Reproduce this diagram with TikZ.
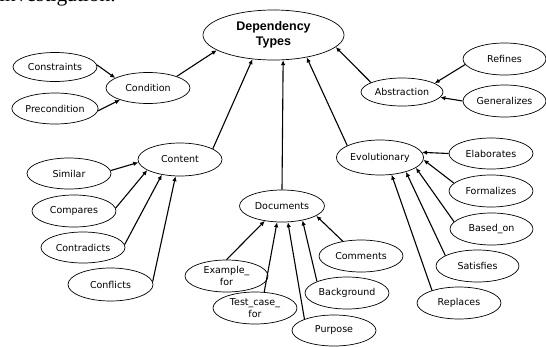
\documentclass[tikz,border=0pt]{standalone}
\usepackage{fontspec}
\usetikzlibrary{arrows.meta, shapes.geometric}
\newfontfamily\labelfont{DejaVu Sans}
\newfontfamily\headfont{Liberation Sans}
\newfontfamily\captionfont{Liberation Serif}

\begin{document}
\begin{tikzpicture}[x=1pt, y=-1pt,
  typebox/.style={draw=black, line width=0.7pt, ellipse, align=center,
    minimum width=84pt, minimum height=32pt, inner sep=1pt,
    font=\labelfont\fontsize{9.5}{12.5}\selectfont},
  rootbox/.style={draw=black, line width=0.7pt, ellipse, align=center,
    minimum width=141pt, minimum height=50pt, inner sep=1pt,
    font=\headfont\bfseries\fontsize{12.5}{14.5}\selectfont},
  dep/.style={-{Latex[length=5pt, width=4.5pt]}, line width=1.1pt, black}
]
\useasboundingbox (0,0) rectangle (546,346);

% cut-off line of running text above the figure
\node[anchor=base west, inner sep=0pt, font=\captionfont\fontsize{21.5}{24}\selectfont]
  (caption) at (-1,1) {investigation.};

% root
\node[rootbox] (types) at (273.5,35) {Dependency\\Types};

% main categories
\node[typebox, minimum height=31pt] (condition) at (148,88) {Condition};
\node[typebox, minimum width=82pt, minimum height=28pt] (abstraction) at (402,92) {Abstraction};
\node[typebox, minimum height=33pt] (content) at (180,159.5) {Content};
\node[typebox, minimum width=85pt] (documents) at (282,206) {Documents};
\node[typebox, minimum height=35pt] (evolutionary) at (380,157.5) {Evolutionary};

% condition
\node[typebox, minimum height=29pt] (constraints) at (55,67) {Constraints};
\node[typebox, minimum height=31pt] (precondition) at (55,108.5) {Precondition};

% abstraction
\node[typebox, minimum width=83pt] (refines) at (504.5,59) {Refines};
\node[typebox, minimum width=83pt] (generalizes) at (504.5,101) {Generalizes};

% content
\node[typebox, minimum height=31pt] (similar) at (69,173.5) {Similar};
\node[typebox] (compares) at (74,211) {Compares};
\node[typebox, minimum height=31pt] (contradicts) at (83,247.5) {Contradicts};
\node[typebox, minimum width=85pt, minimum height=33pt] (conflicts) at (110.5,284.5) {Conflicts};

% documents
\node[typebox, minimum width=83pt] (example) at (226.5,276) {Example\_\\for};
\node[typebox] (testcase) at (255,308) {Test\_case\_\\for};
\node[typebox, minimum height=31pt] (purpose) at (334,330.5) {Purpose};
\node[typebox] (background) at (347,293) {Background};
\node[typebox] (comments) at (361,256) {Comments};

% evolutionary
\node[typebox, minimum height=31pt] (elaborates) at (491,153.5) {Elaborates};
\node[typebox] (formalizes) at (491,191) {Formalizes};
\node[typebox, minimum width=83pt] (basedon) at (491.5,229) {Based\_on};
\node[typebox, minimum width=83pt] (satisfies) at (477.5,266) {Satisfies};
\node[typebox] (replaces) at (459,303) {Replaces};

% into the root
\draw[dep] (condition.22) -- (types.195);
\draw[dep] (content.18) -- (types.229);
\draw[dep] (documents.north) -- (types.291);
\draw[dep] (evolutionary.160) -- (types.326);
\draw[dep] (abstraction.163) -- (types.349);

\draw[dep] (constraints.3) -- (condition.163);
\draw[dep] (precondition.357) -- (condition.203);

\draw[dep] (refines.188) -- (abstraction.15);
\draw[dep] (generalizes.west) -- (abstraction.352);

\draw[dep] (similar.4) -- (content.184);
\draw[dep] (compares.4) -- (content.198);
\draw[dep] (contradicts.4) -- (content.220);
\draw[dep] (conflicts.4) -- (content.255);

\draw[dep] (example.north) -- (documents.221);
\draw[dep] (testcase.60) -- (documents.253);
\draw[dep] (purpose.159) -- (documents.290);
\draw[dep] (background.159) -- (documents.325);
\draw[dep] (comments.141) -- (documents.344);

\draw[dep] (elaborates.west) -- (evolutionary.7);
\draw[dep] (formalizes.168) -- (evolutionary.357);
\draw[dep] (basedon.169) -- (evolutionary.344);
\draw[dep] (satisfies.162) -- (evolutionary.331);
\draw[dep] (replaces.155) -- (evolutionary.304);
\end{tikzpicture}
\end{document}
